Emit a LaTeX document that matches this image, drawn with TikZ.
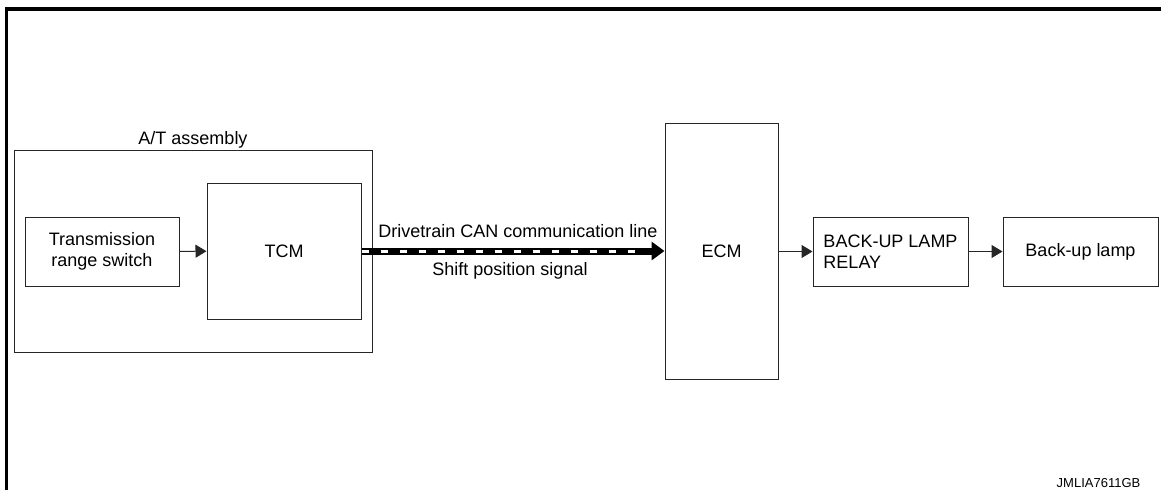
\documentclass[tikz,border=0pt]{standalone}
\usepackage{fontspec}
\setmainfont{Liberation Sans}
\usetikzlibrary{arrows.meta,positioning}

\begin{document}
\begin{tikzpicture}[
  x=1pt, y=-1pt,
  every node/.style={font=\fontsize{18}{21}\selectfont},
  unit/.style={draw=black!85, line width=1pt, inner sep=0pt, align=center},
  group/.style={draw=black!85, line width=1pt, inner sep=0pt},
  sig/.style={-{Triangle[length=11pt,width=13pt]}, line width=1pt, draw=black!85},
  canbus/.style={-{Triangle[length=13pt,width=18pt]}, line width=7pt, draw=black},
  canmark/.style={draw=white, line width=3pt, dash pattern=on 7.5pt off 11.5pt}
]
\useasboundingbox (0,0) rectangle (1161,490);
% page frame
\draw[line width=3.5pt] (6.5,490) |- (1161,9);

\node[group, minimum width=358pt, minimum height=202pt] (at) at (193,251) {};
\node[anchor=base] (atlabel) at (193,144) {A/T assembly};

\node[unit, minimum width=154pt, minimum height=69pt] (trs) at (102,251.5) {Transmission\\range switch};
\node[unit, minimum width=154pt, minimum height=136pt] (tcm) at (284,251) {TCM};
\node[unit, minimum width=113pt, minimum height=256pt] (ecm) at (721.5,251) {ECM};
\node[unit, align=left, minimum width=155pt, minimum height=69pt] (relay) at (890.5,251.5) {BACK-UP LAMP\\RELAY};
\node[unit, minimum width=155pt, minimum height=69pt] (lamp) at (1080.5,251.5) {Back-up lamp};

\draw[sig] (trs) -- (tcm);
\draw[canbus] (tcm.east) -- (ecm.west);
\draw[canmark] (tcm.east) -- ([xshift=-20pt]ecm.west);
\draw[sig] (ecm.east |- relay) -- (relay);
\draw[sig] (relay) -- (lamp);

\node[anchor=base] (canlabel) at (518,237.5) {Drivetrain CAN communication line};
\node[anchor=base] (siglabel) at (510,275.5) {Shift position signal};

\node[anchor=base, font=\fontsize{13}{15}\selectfont] (code) at (1098.5,487) {JMLIA7611GB};
\end{tikzpicture}
\end{document}
